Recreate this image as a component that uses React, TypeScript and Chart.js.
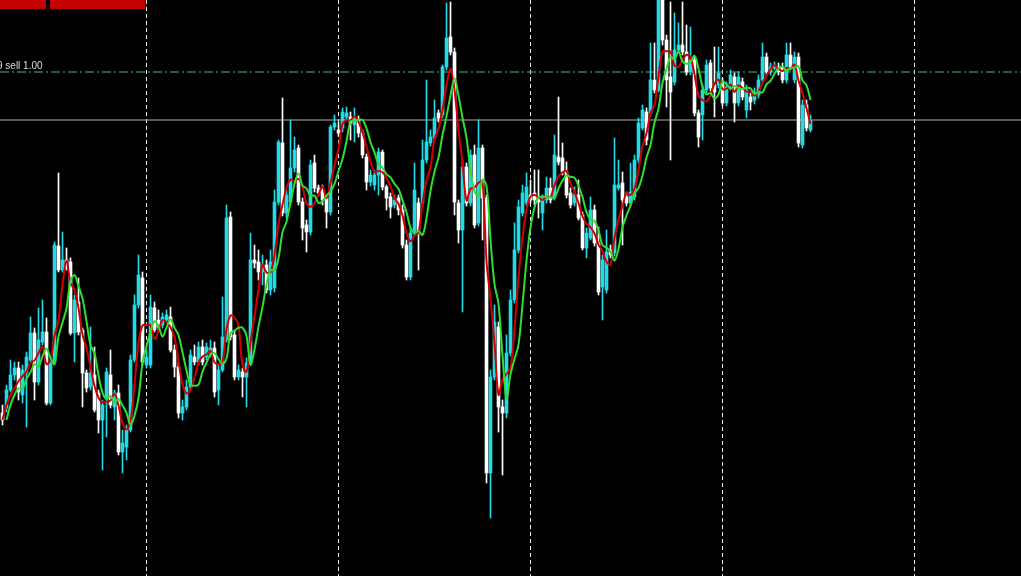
import React, { useEffect, useRef } from "react";
import { Chart, registerables } from "chart.js";

Chart.register(...registerables);

// OHLC series (price points), one value per bar
const opens = [
  187, 192, 210, 225, 232, 205, 227, 240, 267, 218,
  258, 268, 197, 237, 354, 330, 340, 338, 267, 298,
  270, 227, 213, 225, 207, 180, 203, 225, 193, 207,
  148, 153, 170, 240, 295, 322, 235, 235, 292, 280,
  275, 280, 283, 250, 233, 187, 193, 213, 243, 238,
  253, 243, 247, 252, 210, 230, 260, 383, 265, 223,
  228, 223, 237, 340, 338, 328, 335, 310, 312, 398,
  457, 387, 398, 432, 452, 398, 375, 368, 437, 412,
  410, 402, 388, 473, 470, 472, 483, 483, 475, 480,
  467, 443, 418, 415, 425, 448, 413, 403, 395, 402,
  390, 355, 323, 367, 397, 397, 440, 457, 462, 487,
  485, 533, 563, 548, 397, 370, 433, 397, 445, 377,
  452, 402, 127, 223, 273, 193, 187, 247, 300, 350,
  387, 397, 405, 407, 403, 387, 400, 412, 402, 443,
  442, 428, 407, 397, 405, 385, 352, 362, 390, 357,
  313, 310, 350, 347, 412, 417, 403, 397, 403, 440,
  472, 488, 487, 520, 510, 600, 560, 523, 518, 550,
  555, 548, 528, 540, 487, 485, 510, 537, 515, 515,
  517, 497, 513, 523, 497, 518, 490, 503, 500, 505,
  520, 543, 528, 532, 533, 533, 520, 545, 520, 543,
  455, 495, 470,
];
const highs = [
  195, 215, 240, 238, 238, 235, 248, 283, 272, 292,
  300, 282, 240, 358, 427, 368, 352, 342, 305, 322,
  272, 230, 273, 253, 210, 200, 232, 250, 210, 215,
  170, 175, 245, 305, 345, 328, 250, 305, 298, 290,
  287, 290, 293, 255, 238, 200, 220, 250, 255, 258,
  260, 257, 260, 258, 235, 303, 395, 388, 270, 235,
  232, 242, 367, 355, 350, 345, 340, 350, 410, 460,
  502, 410, 480, 463, 455, 402, 380, 440, 445, 415,
  415, 405, 475, 485, 478, 492, 493, 488, 492, 484,
  470, 446, 430, 430, 452, 450, 415, 407, 405, 405,
  395, 360, 372, 437, 402, 460, 520, 470, 500, 490,
  535, 597, 598, 552, 400, 440, 437, 450, 455, 480,
  455, 405, 230, 295, 278, 200, 265, 310, 377, 400,
  415, 427, 420, 430, 430, 405, 423, 422, 465, 503,
  457, 438, 412, 413, 420, 388, 372, 403, 395, 373,
  345, 370, 355, 462, 440, 428, 408, 437, 445, 482,
  495, 492, 557, 557, 610, 608, 565, 598, 587, 577,
  598, 575, 573, 543, 490, 515, 540, 540, 553, 553,
  522, 518, 530, 527, 528, 522, 515, 507, 512, 525,
  557, 547, 537, 538, 537, 537, 557, 557, 548, 547,
  500, 500, 485,
];
const lows = [
  175, 188, 208, 220, 200, 197, 173, 238, 200, 215,
  255, 195, 195, 235, 328, 328, 330, 265, 238, 265,
  193, 208, 210, 188, 167, 130, 163, 192, 180, 145,
  127, 140, 168, 238, 292, 235, 232, 232, 268, 270,
  272, 278, 248, 223, 182, 180, 190, 210, 235, 235,
  235, 240, 243, 203, 195, 228, 258, 260, 220, 220,
  203, 193, 235, 332, 320, 315, 307, 305, 308, 395,
  384, 382, 395, 428, 395, 360, 348, 365, 408, 404,
  395, 372, 385, 470, 464, 468, 480, 460, 458, 463,
  442, 410, 414, 410, 405, 410, 390, 382, 392, 385,
  352, 320, 320, 364, 330, 394, 437, 454, 460, 478,
  482, 530, 545, 385, 357, 288, 394, 394, 372, 374,
  360, 117, 82, 220, 168, 125, 182, 244, 297, 347,
  384, 394, 397, 395, 382, 370, 397, 397, 400, 435,
  425, 402, 392, 394, 380, 350, 342, 360, 354, 305,
  280, 307, 342, 344, 410, 355, 394, 394, 400, 437,
  470, 455, 484, 507, 508, 555, 493, 440, 515, 547,
  545, 525, 525, 484, 453, 460, 507, 509, 483, 512,
  494, 494, 510, 478, 494, 500, 482, 490, 496, 502,
  518, 525, 525, 530, 525, 517, 517, 530, 517, 453,
  452, 469, 468,
];
const closes = [
  180, 210, 225, 232, 208, 230, 243, 267, 218, 260,
  268, 197, 237, 355, 330, 340, 332, 267, 300, 268,
  227, 212, 227, 190, 180, 195, 228, 195, 207, 148,
  157, 170, 240, 295, 325, 238, 243, 293, 270, 273,
  283, 285, 250, 233, 187, 193, 213, 245, 238, 253,
  238, 253, 252, 208, 230, 263, 382, 263, 223, 230,
  223, 237, 340, 337, 328, 335, 310, 338, 398, 458,
  387, 405, 432, 450, 398, 372, 368, 435, 412, 407,
  400, 388, 473, 477, 467, 488, 487, 477, 482, 467,
  445, 418, 425, 425, 448, 413, 402, 393, 400, 390,
  355, 323, 367, 410, 370, 440, 458, 463, 482, 482,
  533, 562, 548, 398, 370, 433, 397, 445, 375, 452,
  402, 127, 223, 278, 193, 187, 247, 300, 350, 393,
  407, 413, 400, 400, 398, 402, 412, 400, 445, 438,
  428, 405, 395, 405, 382, 352, 367, 390, 357, 308,
  340, 348, 345, 415, 415, 400, 397, 408, 440, 477,
  490, 460, 520, 510, 605, 560, 520, 508, 550, 555,
  548, 528, 540, 487, 463, 510, 535, 512, 508, 527,
  497, 513, 525, 497, 523, 503, 510, 498, 507, 520,
  543, 528, 533, 535, 528, 520, 545, 533, 543, 457,
  495, 472, 480,
];

// Indicator settings (moving averages of the closes)
const fastPeriod = 4;
const slowPeriod = 5;
const slowShift = 1;

// Vertical grid separators (bar index) and horizontal levels (price)
const gridBars = [36, 84, 132, 180, 228];
const sellLevel = 528;
const bidLevel = 480;
const orderLabel = "9 sell 1.00";

const BULL = "#22dbe6";
const BEAR = "#ffffff";

function movingAverage(values: number[], period: number, shift: number) {
  return values.map((_, i) => {
    const end = i - shift;
    if (end < 0) return null;
    const start = Math.max(0, end - period + 1);
    let s = 0;
    for (let k = start; k <= end; k++) s += values[k];
    return s / (end - start + 1);
  });
}

const X_MIN = -0.625;
const X_MAX = X_MIN + 1021 / 4;

export default function App() {
  const ref = useRef<HTMLCanvasElement | null>(null);

  useEffect(() => {
    document.body.style.margin = "0";
    document.body.style.background = "#000";
    const canvas = ref.current;
    if (!canvas) return;

    const colors = closes.map((c, i) => (c >= opens[i] ? BULL : BEAR));
    const fast = movingAverage(closes, fastPeriod, 0);
    const slow = movingAverage(closes, slowPeriod, slowShift);

    const bg = {
      id: "bg",
      beforeDraw(chart: any) {
        const { ctx, width, height } = chart;
        ctx.save();
        ctx.fillStyle = "#000";
        ctx.fillRect(0, 0, width, height);
        ctx.restore();
      },
    };

    const overlay = {
      id: "overlay",
      afterDraw(chart: any) {
        const { ctx } = chart;
        const yScale = chart.scales.y;
        ctx.save();
        ctx.fillStyle = "#c40000";
        ctx.fillRect(0, 0, 46, 9);
        ctx.fillRect(50, 0, 95, 9);
        ctx.font = '10px "Liberation Sans", Arial, sans-serif';
        ctx.fillStyle = "#dcdcdc";
        ctx.textBaseline = "alphabetic";
        ctx.fillText(orderLabel, -3, yScale.getPixelForValue(sellLevel) - 3);
        ctx.restore();
      },
    };

    const chart = new Chart(canvas, {
      type: "bar",
      data: {
        datasets: [
          {
            type: "line",
            label: "MA slow",
            data: slow.map((v, i) => ({ x: i, y: v })),
            borderColor: "#2ee02e",
            borderWidth: 2,
            pointRadius: 0,
            tension: 0.35,
            order: 0,
          } as any,
          {
            type: "line",
            label: "MA fast",
            data: fast.map((v, i) => ({ x: i, y: v })),
            borderColor: "#d40000",
            borderWidth: 2,
            pointRadius: 0,
            tension: 0.35,
            order: 1,
          } as any,
          {
            type: "bar",
            label: "body",
            data: opens.map((o, i) => ({ x: i, y: [o, closes[i]] })),
            backgroundColor: colors,
            borderWidth: 0,
            barThickness: 3,
            minBarLength: 1,
            grouped: false,
            order: 2,
          } as any,
          {
            type: "bar",
            label: "wick",
            data: lows.map((l, i) => ({ x: i, y: [l, highs[i]] })),
            backgroundColor: colors,
            borderWidth: 0,
            barThickness: 1,
            grouped: false,
            order: 3,
          } as any,
          {
            type: "line",
            label: "sell",
            data: [
              { x: X_MIN, y: sellLevel },
              { x: X_MAX, y: sellLevel },
            ],
            borderColor: "#48c06a",
            borderWidth: 1,
            borderDash: [9, 3, 2, 3],
            pointRadius: 0,
            order: 4,
          } as any,
          {
            type: "line",
            label: "bid",
            data: [
              { x: X_MIN, y: bidLevel },
              { x: X_MAX, y: bidLevel },
            ],
            borderColor: "#b0b0b0",
            borderWidth: 1,
            pointRadius: 0,
            order: 5,
          } as any,
        ],
      },
      options: {
        animation: false,
        responsive: false,
        maintainAspectRatio: false,
        layout: { padding: 0 },
        plugins: {
          legend: { display: false },
          tooltip: { enabled: false },
        },
        scales: {
          x: {
            type: "linear",
            min: X_MIN,
            max: X_MAX,
            offset: false,
            display: true,
            afterBuildTicks: (s: any) => {
              s.ticks = gridBars.map((v) => ({ value: v }));
            },
            ticks: { display: false },
            grid: {
              color: "#f0f0f0",
              lineWidth: 1,
              drawTicks: false,
              offset: false,
            },
            border: { display: false, dash: [4, 3] },
          },
          y: {
            type: "linear",
            min: 24,
            max: 600,
            display: false,
          },
        },
      } as any,
      plugins: [bg, overlay],
    });

    return () => chart.destroy();
  }, []);

  return (
    <div
      style={{
        position: "fixed",
        left: 0,
        top: 0,
        width: 1021,
        height: 576,
        background: "#000",
      }}
    >
      <canvas ref={ref} width={1021} height={576} style={{ display: "block" }} />
    </div>
  );
}
